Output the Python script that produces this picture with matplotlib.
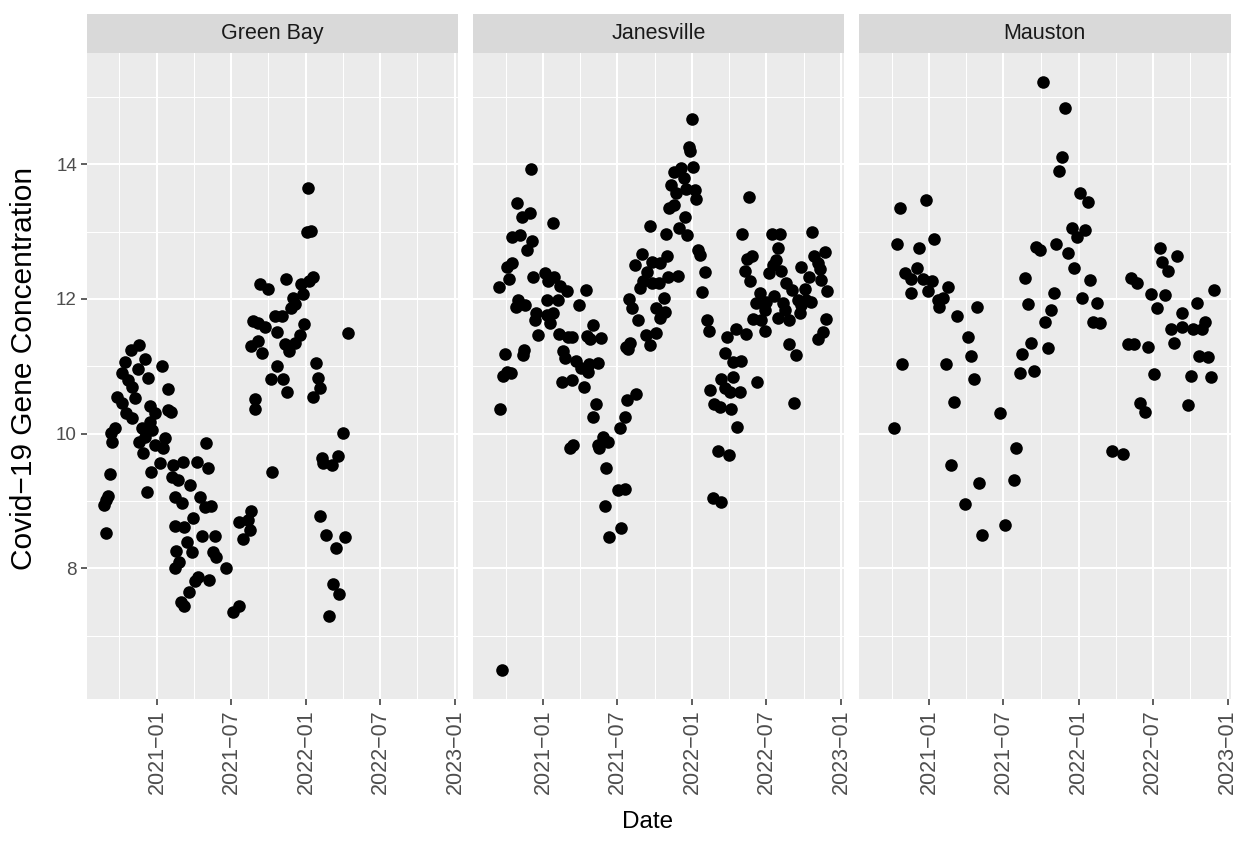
import matplotlib
matplotlib.use("Agg")
import matplotlib.pyplot as plt
import matplotlib.dates as mdates
import numpy as np
import pandas as pd

# --- values ---
sites = ["Green Bay", "Janesville", "Mauston"]

gb_dates = [
    "2020-08-23", "2020-08-28", "2020-09-03", "2020-08-30", "2020-09-08", "2020-09-12", "2020-09-11",
    "2020-09-21", "2020-09-24", "2020-10-06", "2020-10-07", "2020-10-15", "2020-10-16", "2020-10-23",
    "2020-10-30", "2020-10-31", "2020-11-01", "2020-11-08", "2020-11-16", "2020-11-17", "2020-11-18",
    "2020-11-24", "2020-11-28", "2020-12-02", "2020-12-03", "2020-12-07", "2020-12-10", "2020-12-15",
    "2020-12-14", "2020-12-19", "2020-12-18", "2020-12-27", "2020-12-26", "2021-01-08", "2021-01-14",
    "2021-01-16", "2021-01-20", "2021-01-27", "2021-01-28", "2021-02-05", "2021-02-06", "2021-02-09",
    "2021-02-14", "2021-02-15", "2021-02-16", "2021-02-13", "2021-02-22", "2021-02-23", "2021-02-28",
    "2021-03-03", "2021-03-06", "2021-03-07", "2021-03-09", "2021-03-15", "2021-03-21", "2021-03-23",
    "2021-03-27", "2021-03-31", "2021-04-04", "2021-04-08", "2021-04-12", "2021-04-16", "2021-04-20",
    "2021-04-28", "2021-05-02", "2021-05-05", "2021-05-08", "2021-05-14", "2021-05-18", "2021-05-22",
    "2021-05-26", "2021-06-20", "2021-07-06", "2021-07-20", "2021-07-22", "2021-07-31", "2021-08-11",
    "2021-08-16", "2021-08-18", "2021-08-20", "2021-08-24", "2021-08-28", "2021-08-30", "2021-09-05",
    "2021-09-06", "2021-09-11", "2021-09-15", "2021-09-22", "2021-10-01", "2021-10-06", "2021-10-10",
    "2021-10-16", "2021-10-21", "2021-10-23", "2021-11-02", "2021-11-05", "2021-11-10", "2021-11-13",
    "2021-11-16", "2021-11-20", "2021-11-26", "2021-12-01", "2021-12-05", "2021-12-06", "2021-12-17",
    "2021-12-19", "2021-12-25", "2021-12-28", "2022-01-03", "2022-01-07", "2022-01-09", "2022-01-13",
    "2022-01-17", "2022-01-19", "2022-01-25", "2022-01-31", "2022-02-04", "2022-02-05", "2022-02-08",
    "2022-02-12", "2022-02-20", "2022-02-26", "2022-03-06", "2022-03-09", "2022-03-15", "2022-03-21",
    "2022-03-23", "2022-04-02", "2022-04-06", "2022-04-13",
]
gb_conc = [
    8.94, 9.01, 9.07, 8.52, 9.40, 9.87, 10.01, 10.08, 10.54, 10.45, 10.90, 11.06, 10.30, 10.80,
    11.24, 10.69, 10.23, 10.53, 10.96, 9.87, 11.31, 10.08, 9.71, 11.11, 9.95, 9.13, 10.82, 10.41,
    10.17, 10.05, 9.43, 10.30, 9.83, 9.56, 11.00, 9.78, 9.93, 10.66, 10.35, 10.32, 9.35, 9.53,
    9.06, 8.63, 8.25, 8.00, 9.31, 8.09, 7.50, 8.97, 9.58, 8.61, 7.44, 8.39, 7.65, 9.23,
    8.24, 8.74, 7.81, 9.58, 7.87, 9.06, 8.48, 8.91, 9.86, 9.49, 7.82, 8.92, 8.24, 8.48,
    8.17, 8.00, 7.35, 7.44, 8.69, 8.43, 8.71, 8.57, 8.85, 11.30, 11.67, 10.51, 10.36, 11.64,
    11.38, 12.22, 11.19, 11.59, 12.15, 10.81, 9.43, 11.74, 11.51, 11.00, 11.74, 10.81, 11.33, 12.30,
    10.61, 11.22, 11.86, 12.01, 11.93, 11.34, 11.46, 12.22, 12.08, 11.63, 13.00, 13.64, 12.27, 13.01,
    12.33, 10.55, 11.05, 10.83, 10.67, 8.77, 9.63, 9.56, 8.50, 7.29, 9.53, 7.77, 8.30, 9.67,
    7.62, 10.01, 8.47, 11.49,
]

jv_dates = [
    "2020-09-22", "2020-09-15", "2020-09-18", "2020-09-23", "2020-10-03", "2020-10-13", "2020-09-29",
    "2020-10-05", "2020-10-09", "2020-10-17", "2020-10-15", "2020-10-27", "2020-10-29", "2020-10-31",
    "2020-11-04", "2020-11-10", "2020-11-12", "2020-11-15", "2020-11-17", "2020-11-23", "2020-11-29",
    "2020-12-01", "2020-12-05", "2020-12-07", "2020-12-11", "2020-12-15", "2020-12-19", "2021-01-05",
    "2021-01-09", "2021-01-10", "2021-01-13", "2021-01-17", "2021-01-25", "2021-01-26", "2021-01-24",
    "2021-02-06", "2021-02-10", "2021-02-09", "2021-02-15", "2021-02-18", "2021-02-23", "2021-02-27",
    "2021-03-03", "2021-03-11", "2021-03-07", "2021-03-13", "2021-03-15", "2021-03-23", "2021-03-29",
    "2021-04-03", "2021-04-10", "2021-04-16", "2021-04-17", "2021-04-20", "2021-04-24", "2021-04-25",
    "2021-05-02", "2021-05-03", "2021-05-10", "2021-05-14", "2021-05-15", "2021-05-18", "2021-05-22",
    "2021-05-26", "2021-06-04", "2021-06-01", "2021-06-08", "2021-06-10", "2021-07-03", "2021-07-07",
    "2021-07-11", "2021-07-19", "2021-07-20", "2021-07-24", "2021-07-23", "2021-07-30", "2021-08-01",
    "2021-07-28", "2021-08-05", "2021-08-13", "2021-08-17", "2021-08-21", "2021-08-25", "2021-08-31",
    "2021-09-02", "2021-09-11", "2021-09-10", "2021-09-19", "2021-09-20", "2021-09-23", "2021-09-25",
    "2021-10-03", "2021-10-05", "2021-10-11", "2021-10-13", "2021-10-14", "2021-10-25", "2021-10-24",
    "2021-10-28", "2021-11-01", "2021-11-02", "2021-11-26", "2021-11-06", "2021-11-16", "2021-11-10",
    "2021-11-22", "2021-11-18", "2021-11-30", "2021-12-05", "2021-12-11", "2021-12-13", "2021-12-17",
    "2021-12-20", "2021-12-23", "2021-12-27", "2022-01-01", "2022-01-03", "2022-01-07", "2022-01-11",
    "2022-01-15", "2022-01-19", "2022-01-25", "2022-01-31", "2022-02-05", "2022-02-12", "2022-02-13",
    "2022-02-20", "2022-02-24", "2022-03-04", "2022-03-09", "2022-03-13", "2022-03-12", "2022-03-21",
    "2022-03-22", "2022-03-27", "2022-04-01", "2022-04-04", "2022-04-06", "2022-04-10", "2022-04-11",
    "2022-04-19", "2022-04-21", "2022-04-27", "2022-05-01", "2022-05-02", "2022-05-13", "2022-05-09",
    "2022-05-14", "2022-05-19", "2022-05-23", "2022-05-28", "2022-05-29", "2022-06-05", "2022-06-09",
    "2022-06-16", "2022-06-19", "2022-06-27", "2022-06-28", "2022-07-01", "2022-07-08", "2022-07-17",
    "2022-07-16", "2022-07-21", "2022-07-25", "2022-07-29", "2022-07-30", "2022-08-03", "2022-08-06",
    "2022-08-11", "2022-08-15", "2022-08-19", "2022-08-25", "2022-08-27", "2022-09-03", "2022-09-06",
    "2022-09-13", "2022-09-21", "2022-09-17", "2022-09-25", "2022-09-24", "2022-10-03", "2022-10-07",
    "2022-10-15", "2022-10-19", "2022-10-20", "2022-10-27", "2022-11-04", "2022-11-05", "2022-11-09",
    "2022-11-13", "2022-11-17", "2022-11-21", "2022-11-25", "2022-11-27",
]
jv_conc = [
    6.49, 12.18, 10.36, 10.85, 10.92, 10.90, 11.18, 12.48, 12.29, 12.54, 12.92, 11.88, 13.42, 11.98,
    12.95, 13.22, 11.17, 11.24, 11.91, 12.73, 13.28, 13.93, 12.86, 12.33, 11.69, 11.79, 11.46, 12.38,
    11.99, 11.76, 12.26, 11.64, 13.12, 12.32, 11.79, 11.98, 12.19, 11.48, 10.77, 11.23, 11.12, 12.12,
    11.44, 11.43, 9.78, 10.80, 9.83, 11.08, 11.91, 10.97, 10.69, 12.13, 11.45, 10.92, 11.03, 11.41,
    11.61, 10.25, 10.44, 11.05, 9.83, 9.78, 11.42, 9.95, 9.49, 8.92, 9.88, 8.47, 9.16, 10.09,
    8.60, 9.18, 10.25, 10.50, 11.29, 12.00, 11.35, 11.25, 11.86, 12.50, 10.59, 11.69, 12.16, 12.67,
    12.26, 12.40, 11.46, 11.31, 13.08, 12.55, 12.24, 11.49, 11.86, 12.24, 12.53, 11.71, 11.81, 12.01,
    12.96, 12.64, 12.33, 12.34, 13.35, 13.40, 13.69, 13.58, 13.89, 13.06, 13.95, 13.80, 13.22, 13.63,
    12.95, 14.26, 14.19, 14.67, 13.96, 13.62, 13.49, 12.73, 12.65, 12.10, 12.40, 11.69, 11.53, 10.65,
    9.05, 10.44, 9.74, 10.39, 10.81, 8.99, 11.20, 10.67, 11.43, 9.68, 10.61, 10.37, 10.84, 11.07,
    11.55, 10.10, 10.61, 11.08, 12.96, 11.48, 12.41, 12.59, 13.51, 12.27, 12.64, 11.70, 11.94, 10.77,
    12.09, 11.69, 11.84, 11.53, 11.96, 12.39, 12.50, 12.96, 12.05, 12.58, 12.75, 11.72, 12.96, 12.42,
    11.94, 11.84, 12.23, 11.69, 11.33, 12.13, 10.46, 11.16, 11.79, 11.98, 12.47, 11.91, 12.15, 11.98,
    12.33, 11.96, 12.99, 12.64, 12.53, 11.40, 12.44, 12.28, 11.51, 12.69, 11.70, 12.12,
]

ma_dates = [
    "2020-10-06", "2020-10-13", "2020-10-21", "2020-10-27", "2020-11-02", "2020-11-18", "2020-11-17",
    "2020-12-01", "2020-12-07", "2020-12-17", "2020-12-24", "2020-12-29", "2021-01-07", "2021-01-13",
    "2021-01-21", "2021-01-25", "2021-02-04", "2021-02-10", "2021-02-16", "2021-02-23", "2021-03-02",
    "2021-03-09", "2021-03-30", "2021-04-06", "2021-04-13", "2021-04-20", "2021-04-27", "2021-05-03",
    "2021-05-10", "2021-06-22", "2021-07-04", "2021-07-27", "2021-08-02", "2021-08-10", "2021-08-16",
    "2021-08-23", "2021-08-31", "2021-09-06", "2021-09-13", "2021-09-20", "2021-09-28", "2021-10-05",
    "2021-10-11", "2021-10-18", "2021-10-25", "2021-11-02", "2021-11-08", "2021-11-15", "2021-11-22",
    "2021-11-30", "2021-12-07", "2021-12-15", "2021-12-21", "2021-12-29", "2022-01-04", "2022-01-10",
    "2022-01-17", "2022-01-25", "2022-01-30", "2022-02-05", "2022-02-14", "2022-02-22", "2022-03-23",
    "2022-04-19", "2022-05-02", "2022-05-09", "2022-05-16", "2022-05-23", "2022-05-31", "2022-06-12",
    "2022-06-20", "2022-06-27", "2022-07-04", "2022-07-11", "2022-07-19", "2022-07-25", "2022-07-31",
    "2022-08-08", "2022-08-16", "2022-08-22", "2022-08-30", "2022-09-10", "2022-09-11", "2022-09-26",
    "2022-10-02", "2022-10-08", "2022-10-18", "2022-10-23", "2022-10-31", "2022-11-07", "2022-11-14",
    "2022-11-20", "2022-11-28",
]
ma_conc = [
    10.09, 12.82, 13.35, 11.04, 12.38, 12.29, 12.09, 12.46, 12.76, 12.29, 13.47, 12.11, 12.26, 12.89,
    11.98, 11.88, 12.01, 11.04, 12.17, 9.53, 10.47, 11.75, 8.96, 11.43, 11.15, 10.81, 11.88, 9.27,
    8.50, 10.30, 8.64, 9.31, 9.78, 10.90, 11.18, 12.31, 11.93, 11.34, 10.93, 12.77, 12.72, 15.22,
    11.65, 11.27, 11.84, 12.09, 12.82, 13.90, 14.11, 14.84, 12.68, 13.06, 12.46, 12.92, 13.57, 12.01,
    13.02, 13.44, 12.28, 11.65, 11.94, 11.64, 9.74, 9.69, 11.33, 12.31, 11.33, 12.23, 10.46, 10.32,
    11.29, 12.08, 10.88, 11.86, 12.76, 12.55, 12.06, 12.42, 11.55, 11.34, 12.63, 11.58, 11.79, 10.43,
    10.85, 11.55, 11.94, 11.15, 11.55, 11.66, 11.13, 10.84, 12.13,
]

site_dates = [gb_dates, jv_dates, ma_dates]
site_conc = [gb_conc, jv_conc, ma_conc]

plt.rcParams["font.family"] = ["Liberation Sans", "DejaVu Sans"]

W, H = 1248, 842
fig = plt.figure(figsize=(W / 100, H / 100), dpi=100)

def px_axes(x0, y0, x1, y1):
    return fig.add_axes([x0 / W, 1 - y1 / H, (x1 - x0) / W, (y1 - y0) / H])

panel_x = [(86.7, 458.0), (473.0, 844.3), (859.0, 1230.7)]
panel_top, panel_bottom = 52.7, 699.3
strip_top = 13.5

# shared scales, ggplot style 5% expansion
all_x = mdates.date2num(pd.to_datetime(sum(site_dates, [])))
all_y = np.array(sum(site_conc, []))
xpad = 0.05 * (all_x.max() - all_x.min())
ypad = 0.05 * (all_y.max() - all_y.min())
xlim = (all_x.min() - xpad, all_x.max() + xpad)
ylim = (all_y.min() - ypad, all_y.max() + ypad)

major_x = mdates.date2num(pd.to_datetime(["2020-07-01", "2021-01-01", "2021-07-01",
                                          "2022-01-01", "2022-07-01", "2023-01-01"]))
minor_x = (major_x[:-1] + major_x[1:]) / 2
major_y = [8, 10, 12, 14]
minor_y = [7, 9, 11, 13, 15]

for i, site in enumerate(sites):
    x0, x1 = panel_x[i]
    ax = px_axes(x0, panel_top, x1, panel_bottom)
    ax.set_facecolor("#EBEBEB")
    for s in ax.spines.values():
        s.set_visible(False)

    ax.set_xlim(xlim)
    ax.set_ylim(ylim)
    ax.set_xticks(major_x[1:])
    ax.set_xticks(minor_x, minor=True)
    ax.set_yticks(major_y)
    ax.set_yticks(minor_y, minor=True)
    ax.xaxis.set_major_formatter(mdates.DateFormatter("%Y\u2212%m"))

    ax.grid(which="major", color="white", linewidth=1.5)
    ax.grid(which="minor", color="white", linewidth=0.75)
    ax.set_axisbelow(True)

    ax.tick_params(which="minor", length=0)
    ax.tick_params(axis="x", which="major", length=4, width=1.1, color="#333333",
                   labelsize=15.5, labelcolor="#4D4D4D", labelrotation=90, pad=3)
    if i == 0:
        ax.tick_params(axis="y", which="major", length=4, width=1.1, color="#333333",
                       labelsize=13.5, labelcolor="#4D4D4D", pad=3)
    else:
        ax.tick_params(axis="y", which="major", length=0, labelleft=False)

    ax.scatter(pd.to_datetime(site_dates[i]), site_conc[i], s=82, color="black",
               linewidths=0, zorder=3)

    strip = px_axes(x0, strip_top, x1, panel_top)
    strip.set_facecolor("#D9D9D9")
    strip.set_xticks([])
    strip.set_yticks([])
    for s in strip.spines.values():
        s.set_visible(False)
    strip.text(0.5, 0.5, site, ha="center", va="center", fontsize=15.5, color="#1A1A1A",
               transform=strip.transAxes)

fig.text(648 / W, 1 - 822 / H, "Date",
         ha="center", va="center", fontsize=17.5, color="black")
fig.text(24 / W, 1 - 368 / H, "Covid\u221219 Gene Concentration",
         ha="center", va="center", rotation=90, fontsize=21.5, color="black")

fig.savefig("out.png", dpi=100)
